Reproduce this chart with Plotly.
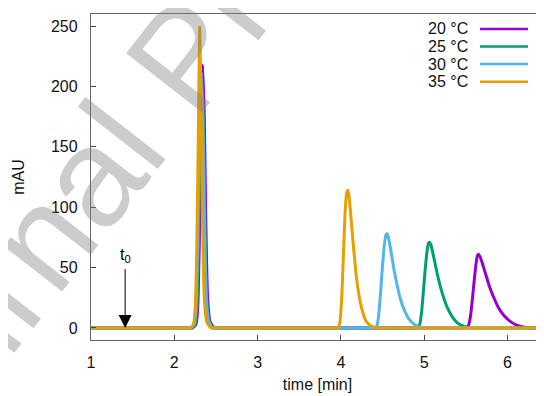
import plotly.graph_objects as go

# ---- data ----
series_names = ["20 °C", "25 °C", "30 °C", "35 °C"]
series_colors = ["#9400d3", "#009e73", "#56b4e9", "#e69f00"]

t_20 = [1.0, 2.17, 2.22, 2.26, 2.28, 2.30, 2.32, 2.34, 2.36, 2.38, 2.40, 2.43, 2.48, 2.53,
        5.45, 5.50, 5.52, 5.54, 5.56, 5.58, 5.60, 5.62, 5.635, 5.65, 5.67, 5.70, 5.74,
        5.78, 5.83, 5.89, 5.96, 6.04, 6.12, 6.20, 6.28, 6.34, 6.44]
y_20 = [0, 0, 0, 3, 15, 70, 165, 218, 175, 80, 25, 5, 0, 0,
        0, 0, 0.5, 4, 12, 25, 39, 52, 59, 61, 59, 53, 44,
        35, 26, 17, 10, 5, 2, 0.5, 0, 0, 0]

t_25 = [1.0, 2.16, 2.21, 2.25, 2.27, 2.29, 2.31, 2.33, 2.35, 2.37, 2.39, 2.42, 2.47, 2.52,
        4.86, 4.91, 4.93, 4.95, 4.97, 4.99, 5.01, 5.03, 5.05, 5.065, 5.08, 5.11, 5.14,
        5.18, 5.22, 5.27, 5.33, 5.40, 5.47, 5.55, 5.61, 6.44]
y_25 = [0, 0, 0, 3, 15, 65, 160, 205, 165, 75, 22, 5, 0, 0,
        0, 0, 0.5, 4, 14, 30, 47, 61, 70, 71, 69, 60, 50,
        38, 28, 18, 10, 4, 1.5, 0, 0, 0]

t_30 = [1.0, 2.15, 2.20, 2.24, 2.26, 2.28, 2.30, 2.325, 2.345, 2.365, 2.385, 2.415, 2.46, 2.51,
        4.35, 4.40, 4.42, 4.44, 4.46, 4.48, 4.50, 4.52, 4.54, 4.555, 4.57, 4.60, 4.63,
        4.67, 4.71, 4.76, 4.82, 4.88, 4.95, 5.00, 5.06, 6.44]
y_30 = [0, 0, 0, 3, 15, 65, 160, 212, 170, 78, 24, 5, 0, 0,
        0, 0, 0.5, 4, 15, 33, 52, 68, 77, 78, 75, 64, 51,
        37, 25, 15, 7, 3, 0.5, 0, 0, 0]

t_35 = [1.0, 2.14, 2.19, 2.23, 2.25, 2.27, 2.29, 2.305, 2.32, 2.34, 2.36, 2.39, 2.44, 2.49,
        3.90, 3.95, 3.97, 3.99, 4.01, 4.03, 4.05, 4.07, 4.085, 4.10, 4.12, 4.15, 4.18,
        4.21, 4.25, 4.30, 4.35, 4.40, 4.45, 4.51, 6.44]
y_35 = [0, 0, 0, 3, 15, 65, 170, 249, 190, 85, 25, 5, 0, 0,
        0, 0, 0.5, 6, 25, 60, 95, 112, 114, 108, 92, 68, 46,
        30, 16, 6, 2, 0.5, 0, 0, 0]

x_ticks = [1, 2, 3, 4, 5, 6]
y_ticks = [0, 50, 100, 150, 200, 250]
t0_time = 1.41
t0_top = 50

series_t = [t_20, t_25, t_30, t_35]
series_y = [y_20, y_25, y_30, y_35]

FONT = "Liberation Sans, Arial, sans-serif"

fig = go.Figure()
for name, color, tt, yy in zip(series_names, series_colors, series_t, series_y):
    fig.add_trace(go.Scatter(x=tt, y=yy, mode="lines", name=name,
                             line=dict(color=color, width=3, shape="spline", smoothing=0.5),
                             showlegend=False))

# watermark
fig.add_annotation(text="Journal Pre-proof", xref="paper", yref="paper",
                   x=0.204, y=0.867, xanchor="center", yanchor="middle",
                   showarrow=False, textangle=-52,
                   font=dict(family=FONT, size=140, color="rgba(128,128,128,0.4)"))

# t0 arrow
fig.add_annotation(x=t0_time, y=0, ax=t0_time, ay=t0_top, xref="x", yref="y",
                   axref="x", ayref="y", text="", showarrow=True,
                   arrowhead=2, arrowsize=2.6, arrowwidth=1, arrowcolor="black")
fig.add_annotation(x=t0_time, y=t0_top, xref="x", yref="y", text="t<sub>0</sub>",
                   showarrow=False, yanchor="bottom", xanchor="center", yshift=1,
                   font=dict(family=FONT, size=16, color="black"))

# legend (gnuplot style: text then line sample)
leg_y = [0.954, 0.900, 0.8466, 0.7923]
for name, color, ly in zip(series_names, series_colors, leg_y):
    fig.add_annotation(text=name, xref="paper", yref="paper", x=0.8366, y=ly,
                       xanchor="right", yanchor="middle", showarrow=False,
                       font=dict(family=FONT, size=16, color="#111"))
    fig.add_shape(type="line", xref="paper", yref="paper", x0=0.8587, x1=0.9647,
                  y0=ly, y1=ly, line=dict(color=color, width=2.5))

# the page body adds an 8px offset; size the figure so the plot lands where the reference has it
fig.update_layout(
    width=536, height=388,
    margin=dict(l=83, r=0, t=6, b=56, autoexpand=False),
    paper_bgcolor="white", plot_bgcolor="white",
    font=dict(family=FONT, size=16, color="#111"),
    showlegend=False,
)
fig.update_xaxes(range=[1, 6.438], tickvals=x_ticks, ticks="inside", ticklen=5,
                 tickcolor="#444", showline=True, linecolor="#666", linewidth=1.3,
                 mirror=True, showgrid=False, zeroline=False, automargin=False,
                 ticklabelstandoff=8,
                 title=dict(text="time [min]", standoff=8, font=dict(size=16)))
fig.update_yaxes(range=[-10, 260], tickvals=y_ticks, ticks="inside", ticklen=5,
                 tickcolor="#444", showline=True, linecolor="#666", linewidth=1.3,
                 showgrid=False, zeroline=False, automargin=False, ticklabelstandoff=9,
                 title=dict(text="mAU", standoff=22, font=dict(size=16)))

fig.write_html("out.html")
